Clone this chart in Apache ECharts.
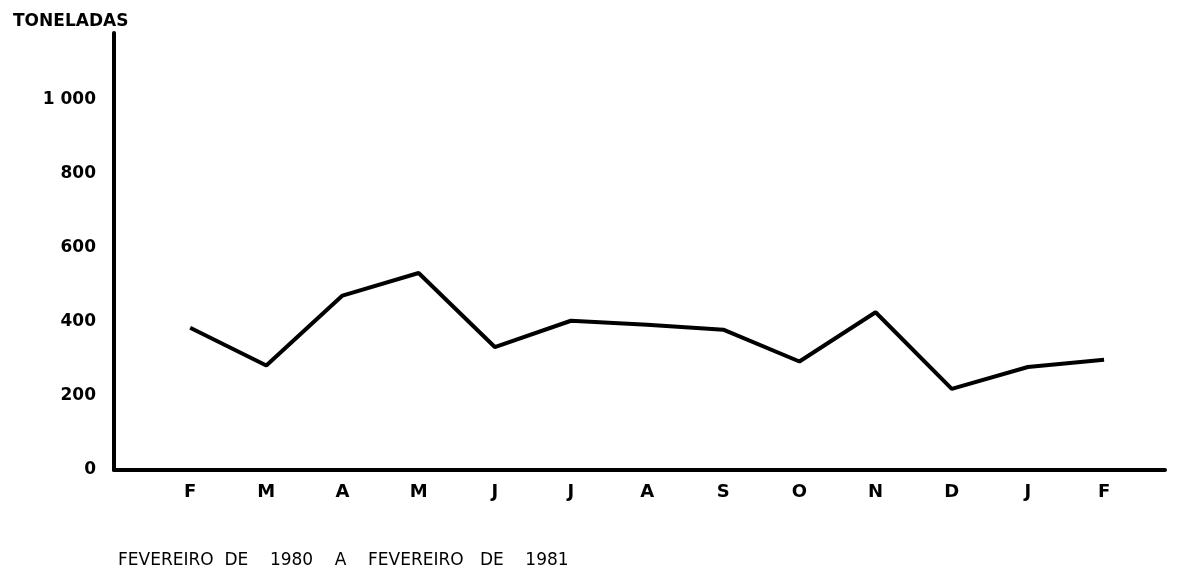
<!DOCTYPE html>
<html>
<head>
<meta charset="utf-8">
<script src="https://cdn.jsdelivr.net/npm/echarts@6/dist/echarts.min.js"></script>
<style>
  html, body { margin: 0; padding: 0; background: #fff; }
  #chart { width: 1178px; height: 572px; }
</style>
</head>
<body>
<div id="chart"></div>
<script>
// meses de fevereiro 1980 a fevereiro 1981
const months = ['F', 'M', 'A', 'M', 'J', 'J', 'A', 'S', 'O', 'N', 'D', 'J', 'F']
const tonnes = [384, 282, 471, 532, 332, 403, 392, 379, 293, 426, 219, 278, 298]
const yTicks = [0, 200, 400, 600, 800, 1000]

const font = 'DejaVu Sans'
const chart = echarts.init(document.getElementById('chart'))

chart.setOption({
  animation: false,
  backgroundColor: '#fff',
  title: [
    {
      text: 'TONELADAS',
      left: 8, top: 8,
      textStyle: { fontFamily: font, fontSize: 17, fontWeight: 'bold', color: '#000' }
    },
    {
      text: 'FEVEREIRO  DE    1980    A    FEVEREIRO   DE    1981',
      left: 113, top: 547,
      textStyle: { fontFamily: font, fontSize: 17, fontWeight: 'normal', color: '#000' }
    }
  ],
  grid: { left: 114, right: 13, top: 33, bottom: 102 },
  xAxis: {
    type: 'value',
    min: -1,
    max: 12.8,
    interval: 1,
    axisLine: { onZero: false, lineStyle: { color: '#000', width: 4 } },
    axisTick: { show: false },
    splitLine: { show: false },
    axisLabel: {
      margin: 13,
      showMaxLabel: false,
      fontFamily: font, fontSize: 18, fontWeight: 'bold', color: '#000',
      formatter: v => months[v] || ''
    }
  },
  yAxis: {
    type: 'value',
    min: 0,
    max: 1180,
    interval: 200,
    axisLine: { show: true, onZero: false, lineStyle: { color: '#000', width: 4 } },
    axisTick: { show: false },
    splitLine: { show: false },
    axisLabel: {
      margin: 18,
      showMaxLabel: false,
      fontFamily: font, fontSize: 17, fontWeight: 'bold', color: '#000',
      formatter: v => yTicks.includes(v) ? (v === 1000 ? '1 000' : String(v)) : ''
    }
  },
  series: [{
    type: 'line',
    data: months.map((m, i) => [i, tonnes[i]]),
    symbol: 'none',
    lineStyle: { color: '#000', width: 4 }
  }]
})
</script>
</body>
</html>
